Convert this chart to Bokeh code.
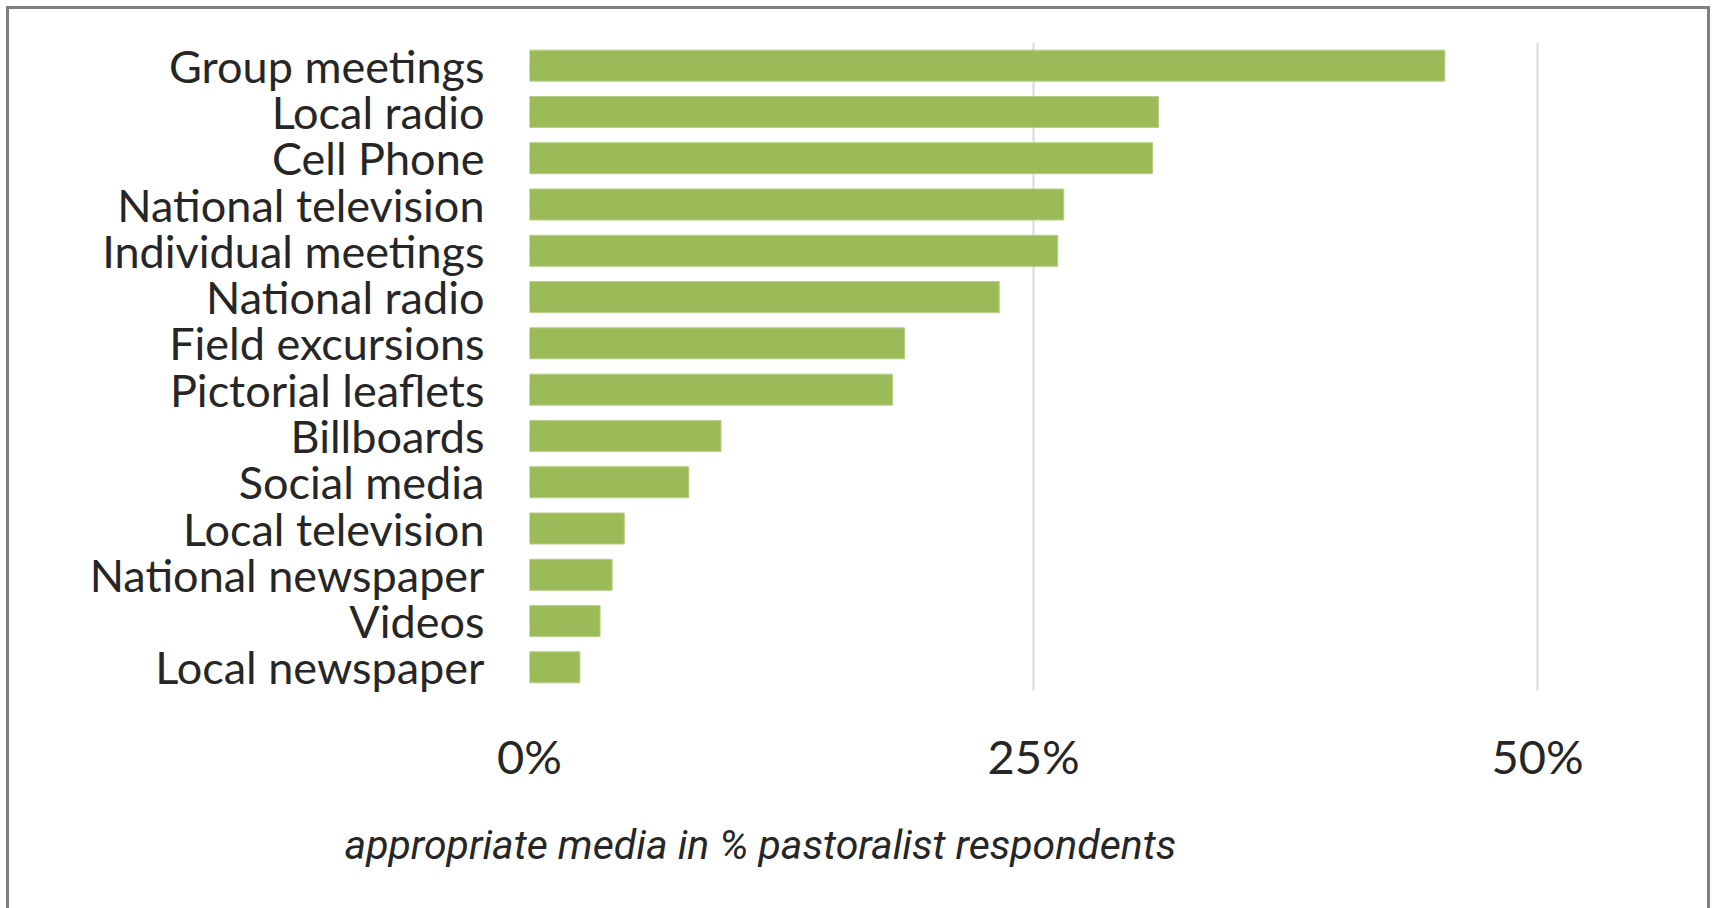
from bokeh.plotting import figure
from bokeh.models import Range1d, FixedTicker, PrintfTickFormatter, Title
from bokeh.embed import file_html
from bokeh.resources import INLINE

categories = ["Group meetings", "Local radio", "Cell Phone", "National television",
              "Individual meetings", "National radio", "Field excursions",
              "Pictorial leaflets", "Billboards", "Social media", "Local television",
              "National newspaper", "Videos", "Local newspaper"]
values = [45.4, 31.2, 30.9, 26.5, 26.2, 23.3, 18.6, 18.0, 9.5, 7.9, 4.7, 4.1, 3.5, 2.5]
x_ticks = [0, 25, 50]
x_title = "appropriate media in % pastoralist respondents"

TEXT = "#262626"
FONT = "Lato"

p = figure(width=1704, height=902, y_range=list(reversed(categories)),
           x_range=Range1d(0, 58.43), output_backend="svg", toolbar_location=None,
           min_border_left=520, min_border_right=6, min_border_top=33,
           min_border_bottom=221)
p.styles = {"margin-left": "6px", "margin-top": "6px",
            "border-left": "3px solid #7f7f7f", "border-top": "3px solid #7f7f7f",
            "border-right": "3px solid #7f7f7f"}
p.outline_line_color = None
p.background_fill_color = "white"
p.border_fill_color = "white"

p.hbar(y=categories, right=values, left=0, height=0.67, fill_color="#9BBB59",
       line_color="#b5cf86", line_width=1)

p.ygrid.grid_line_color = None
p.xgrid.ticker = FixedTicker(ticks=x_ticks)
p.xgrid.grid_line_color = "#d9d9d9"
p.xgrid.grid_line_width = 2

xa = p.xaxis[0]
xa.ticker = FixedTicker(ticks=x_ticks)
xa.formatter = PrintfTickFormatter(format="%d%%")
xa.axis_line_color = None
xa.major_tick_line_color = None
xa.minor_tick_line_color = None
xa.major_tick_out = 0
xa.minor_tick_out = 0
xa.major_label_standoff = 37
xa.major_label_text_font = FONT
xa.major_label_text_font_size = "47px"
xa.major_label_text_color = TEXT

ya = p.yaxis[0]
ya.axis_line_color = None
ya.major_tick_line_color = None
ya.minor_tick_line_color = None
ya.major_tick_out = 0
ya.major_label_standoff = 45
ya.major_label_text_font = FONT
ya.major_label_text_font_size = "45px"
ya.major_label_text_color = TEXT

title = Title(text=x_title, align="left", offset=-185, vertical_align="top",
              standoff=68, text_font="Roboto",
              text_font_style="italic", text_font_size="41px", text_color=TEXT)
p.add_layout(title, "below")

open("out.html", "w").write(file_html(p, INLINE))
